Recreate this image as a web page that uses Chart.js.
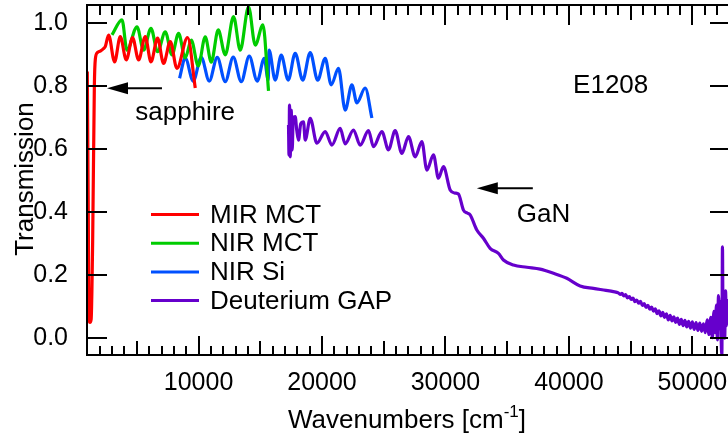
<!DOCTYPE html>
<html>
<head>
<meta charset="utf-8">
<script src="https://cdn.jsdelivr.net/npm/chart.js@4/dist/chart.umd.min.js"></script>
<style>
  html, body { margin: 0; padding: 0; background: #fff; overflow: hidden; }
  #wrap { width: 728px; height: 439px; overflow: hidden; }
</style>
</head>
<body>
<div id="wrap"><canvas id="chart" width="740" height="439"></canvas></div>
<script>
const FONT = "'Liberation Sans', Arial, Helvetica, sans-serif";

// MIR MCT detector
const mirX = [988, 1060, 1120, 1200, 1300, 1420, 1560, 1640, 1800, 2040, 2300, 2450, 2713, 3199, 3660, 4146,
  4656, 5142, 5685, 6146, 6681, 7166, 7709, 8251, 9110, 9733];
const mirY = [0.845, 0.45, 0.07, 0.05, 0.06, 0.30, 0.80, 0.885, 0.905, 0.910, 0.918, 0.925, 0.961, 0.876, 0.956, 0.882,
  0.953, 0.882, 0.956, 0.876, 0.951, 0.871, 0.940, 0.855, 0.953, 0.793];

// NIR MCT detector
const nirMctX = [2988, 3798, 4203, 5013, 5547, 6146, 6681, 7304, 7847, 8381, 8923, 9409, 9976, 10543, 11029,
  11595, 12162, 12834, 13377, 14051, 14591, 15215, 15668];
const nirMctY = [0.961, 1.009, 0.913, 0.987, 0.913, 0.982, 0.908, 0.971, 0.898, 0.966, 0.888, 0.945, 0.863, 0.955, 0.875,
  0.977, 0.898, 1.019, 0.913, 1.050, 0.929, 0.993, 0.784];

// NIR Si detector
const nirSiX = [8462, 8923, 9571, 10219, 10867, 11514, 12162, 12810, 13458, 14106, 14753, 15320, 15644, 15709,
  16211, 16697, 17263, 17830, 18437, 19045, 19652, 20259, 20745, 21336, 21879, 22421, 22826, 23498, 24041];
const nirSiY = [0.824, 0.888, 0.815, 0.890, 0.815, 0.890, 0.813, 0.891, 0.813, 0.894, 0.815, 0.887, 0.818, 0.913,
  0.818, 0.897, 0.818, 0.903, 0.818, 0.905, 0.818, 0.887, 0.803, 0.855, 0.723, 0.803, 0.746, 0.793, 0.698];

// Deuterium lamp + GaP detector
const gapX = [17288, 17328, 17369, 17425, 17506, 17587, 17668, 17830, 17952, 18097, 18275, 18502, 18640, 19045,
  19587, 20259, 20802, 21474, 21879, 22551, 23093, 23765, 24170, 24850, 25385, 25927, 26470, 27004, 27547,
  28089, 28494, 29029, 29433, 29838, 30381, 30785, 31053, 31458, 31758, 32000, 32542, 33077, 33619, 34292,
  34697, 35507, 36592, 37668, 38745, 39830, 40907, 41983, 43000, 43603,
  44000, 44150, 44300, 44450, 44600, 44750, 44900, 45050, 45200, 45350, 45500, 45650, 45800, 45950, 46100,
  46250, 46400, 46550, 46700, 46850, 47000, 47150, 47300, 47450, 47600, 47750, 47900, 48050, 48200, 48350,
  48500, 48650, 48800, 48950, 49100, 49250, 49400, 49550, 49700, 49850, 50000, 50150, 50300, 50450, 50600,
  50750, 50900, 51050, 51200, 51350, 51500, 51620, 51750, 51860, 51950, 52030, 52120, 52200, 52280, 52340,
  52390, 52440, 52490, 52560, 52620, 52690, 52760, 52830, 52900];
const gapY = [0.676, 0.581, 0.739, 0.575, 0.723, 0.597, 0.698, 0.702, 0.660, 0.628, 0.679, 0.686, 0.628, 0.697,
  0.618, 0.655, 0.612, 0.665, 0.616, 0.660, 0.612, 0.658, 0.607, 0.655, 0.597, 0.658, 0.586, 0.639, 0.575,
  0.623, 0.533, 0.581, 0.507, 0.544, 0.470, 0.460, 0.457, 0.406, 0.397, 0.391, 0.343, 0.317, 0.285, 0.269,
  0.248, 0.232, 0.225, 0.219, 0.206, 0.190, 0.166, 0.158, 0.152, 0.148,
  0.144, 0.139, 0.142, 0.134, 0.138, 0.128, 0.132, 0.123, 0.127, 0.116, 0.121, 0.111, 0.117, 0.104, 0.110,
  0.098, 0.104, 0.092, 0.099, 0.086, 0.093, 0.078, 0.087, 0.071, 0.082, 0.066, 0.077, 0.058, 0.073, 0.055,
  0.068, 0.050, 0.064, 0.044, 0.060, 0.040, 0.057, 0.036, 0.054, 0.032, 0.052, 0.028, 0.050, 0.025, 0.048,
  0.022, 0.046, 0.018, 0.058, 0.012, 0.066, 0.002, 0.085, 0.018, 0.105, -0.005, 0.135, 0.030, 0.115, -0.010,
  -0.053, 0.290, 0.020, 0.130, 0.000, 0.150, 0.040, 0.120, 0.050];

const xLabels = [10000, 20000, 30000, 40000, 50000];
const yLabels = [0.0, 0.2, 0.4, 0.6, 0.8, 1.0];

const seriesNames = ['MIR MCT', 'NIR MCT', 'NIR Si', 'Deuterium GAP'];
const seriesColors = ['#ff0000', '#00cc00', '#0050ff', '#6600cc'];

const toPoints = (xs, ys) => xs.map((x, i) => ({ x, y: ys[i] }));

// text labels and arrows inside the plot, placed in data units
const notes = [
  { text: 'sapphire', x: 4875, y: 0.692 },
  { text: 'E1208', x: 40340, y: 0.777 },
  { text: 'GaN', x: 35781, y: 0.368 }
];
const arrows = [
  { from: [7037, 0.792], to: [2584, 0.792] },
  { from: [37077, 0.475], to: [32542, 0.475] }
];

// Igor-style box: ticks on all four sides pointing inward
const boxAxes = {
  id: 'boxAxes',
  afterDraw(chart) {
    const { ctx, chartArea: a, scales: { x, y } } = chart;
    ctx.save();
    ctx.strokeStyle = '#000';
    ctx.fillStyle = '#000';
    ctx.lineWidth = 2;
    ctx.strokeRect(a.left, a.top, a.right - a.left, a.bottom - a.top);

    ctx.beginPath();
    for (let v = 1000; v < x.max; v += 1000) {
      const px = Math.round(x.getPixelForValue(v));
      if (px <= a.left + 1 || px >= a.right - 1) continue;
      const major = v % 10000 === 0, mid = v % 5000 === 0;
      const lb = major ? 19 : mid ? 14 : 9;
      const lt = major ? 20 : mid ? 15 : 10;
      ctx.moveTo(px, a.bottom); ctx.lineTo(px, a.bottom - lb);
      ctx.moveTo(px, a.top); ctx.lineTo(px, a.top + lt);
    }
    yLabels.forEach(v => {
      const py = Math.round(y.getPixelForValue(v));
      ctx.moveTo(a.left, py); ctx.lineTo(a.left + 20, py);
      ctx.moveTo(a.right, py); ctx.lineTo(a.right - 20, py);
    });
    ctx.stroke();

    // axis titles
    ctx.font = '26px ' + FONT;
    ctx.textBaseline = 'alphabetic';
    ctx.save();
    ctx.translate(33, 179);
    ctx.rotate(-Math.PI / 2);
    ctx.textAlign = 'center';
    ctx.fillText('Transmission', 0, 0);
    ctx.restore();

    const head = 'Wavenumbers [cm', sup = '-1', tail = ']';
    const supFont = '17px ' + FONT;
    const w1 = ctx.measureText(head).width;
    ctx.font = supFont;
    const w2 = ctx.measureText(sup).width;
    ctx.font = '26px ' + FONT;
    const w3 = ctx.measureText(tail).width;
    let tx = 407 - (w1 + w2 + w3) / 2;
    const base = 428;
    ctx.textAlign = 'left';
    ctx.fillText(head, tx, base);
    tx += w1;
    ctx.font = supFont;
    ctx.fillText(sup, tx, base - 11);
    tx += w2;
    ctx.font = '26px ' + FONT;
    ctx.fillText(tail, tx, base);

    // notes
    notes.forEach(n => {
      ctx.fillText(n.text, x.getPixelForValue(n.x), y.getPixelForValue(n.y));
    });

    // arrows
    arrows.forEach(ar => {
      const x0 = x.getPixelForValue(ar.from[0]), y0 = y.getPixelForValue(ar.from[1]);
      const x1 = x.getPixelForValue(ar.to[0]);
      ctx.beginPath();
      ctx.moveTo(x0, y0); ctx.lineTo(x1 + 18, y0);
      ctx.stroke();
      ctx.beginPath();
      ctx.moveTo(x1, y0);
      ctx.lineTo(x1 + 21, y0 - 6);
      ctx.lineTo(x1 + 21, y0 + 6);
      ctx.closePath();
      ctx.fill();
    });

    // legend
    const legendTop = 214.5, rowH = 28.7;
    chart.data.datasets.forEach((ds, i) => {
      const ly = legendTop + i * rowH;
      ctx.strokeStyle = ds.borderColor;
      ctx.lineWidth = 3;
      ctx.beginPath();
      ctx.moveTo(151, ly); ctx.lineTo(199, ly);
      ctx.stroke();
      ctx.fillStyle = '#000';
      ctx.textBaseline = 'middle';
      ctx.fillText(ds.label, 210, ly + 1);
    });
    ctx.restore();
  }
};

const seriesX = [mirX, nirMctX, nirSiX, gapX];
const seriesY = [mirY, nirMctY, nirSiY, gapY];

new Chart(document.getElementById('chart'), {
  type: 'line',
  data: {
    datasets: seriesNames.map((name, i) => ({
      label: name,
      data: toPoints(seriesX[i], seriesY[i]),
      borderColor: seriesColors[i],
      borderWidth: 3.2,
      pointRadius: 0,
      fill: false,
      cubicInterpolationMode: 'monotone'
    }))
  },
  options: {
    responsive: false,
    animation: false,
    devicePixelRatio: 1,
    layout: { padding: { top: 5, right: 10, left: 0, bottom: 0 } },
    plugins: { legend: { display: false }, tooltip: { enabled: false } },
    scales: {
      x: {
        type: 'linear',
        min: 964,
        max: 53050,
        grid: { display: false },
        border: { display: false },
        afterBuildTicks: s => { s.ticks = xLabels.map(v => ({ value: v })); },
        afterFit: s => { s.height = 84; s.paddingLeft = 0; s.paddingRight = 0; },
        ticks: {
          padding: 5,
          maxRotation: 0,
          color: '#000',
          font: { family: FONT, size: 25 },
          callback: v => String(v)
        }
      },
      y: {
        type: 'linear',
        min: -0.053,
        max: 1.056,
        grid: { display: false },
        border: { display: false },
        afterBuildTicks: s => { s.ticks = yLabels.map(v => ({ value: v })); },
        afterFit: s => { s.width = 87; s.paddingTop = 0; s.paddingBottom = 0; },
        ticks: {
          padding: 11,
          color: '#000',
          font: { family: FONT, size: 25 },
          callback: v => v.toFixed(1)
        }
      }
    }
  },
  plugins: [boxAxes]
});
</script>
</body>
</html>
